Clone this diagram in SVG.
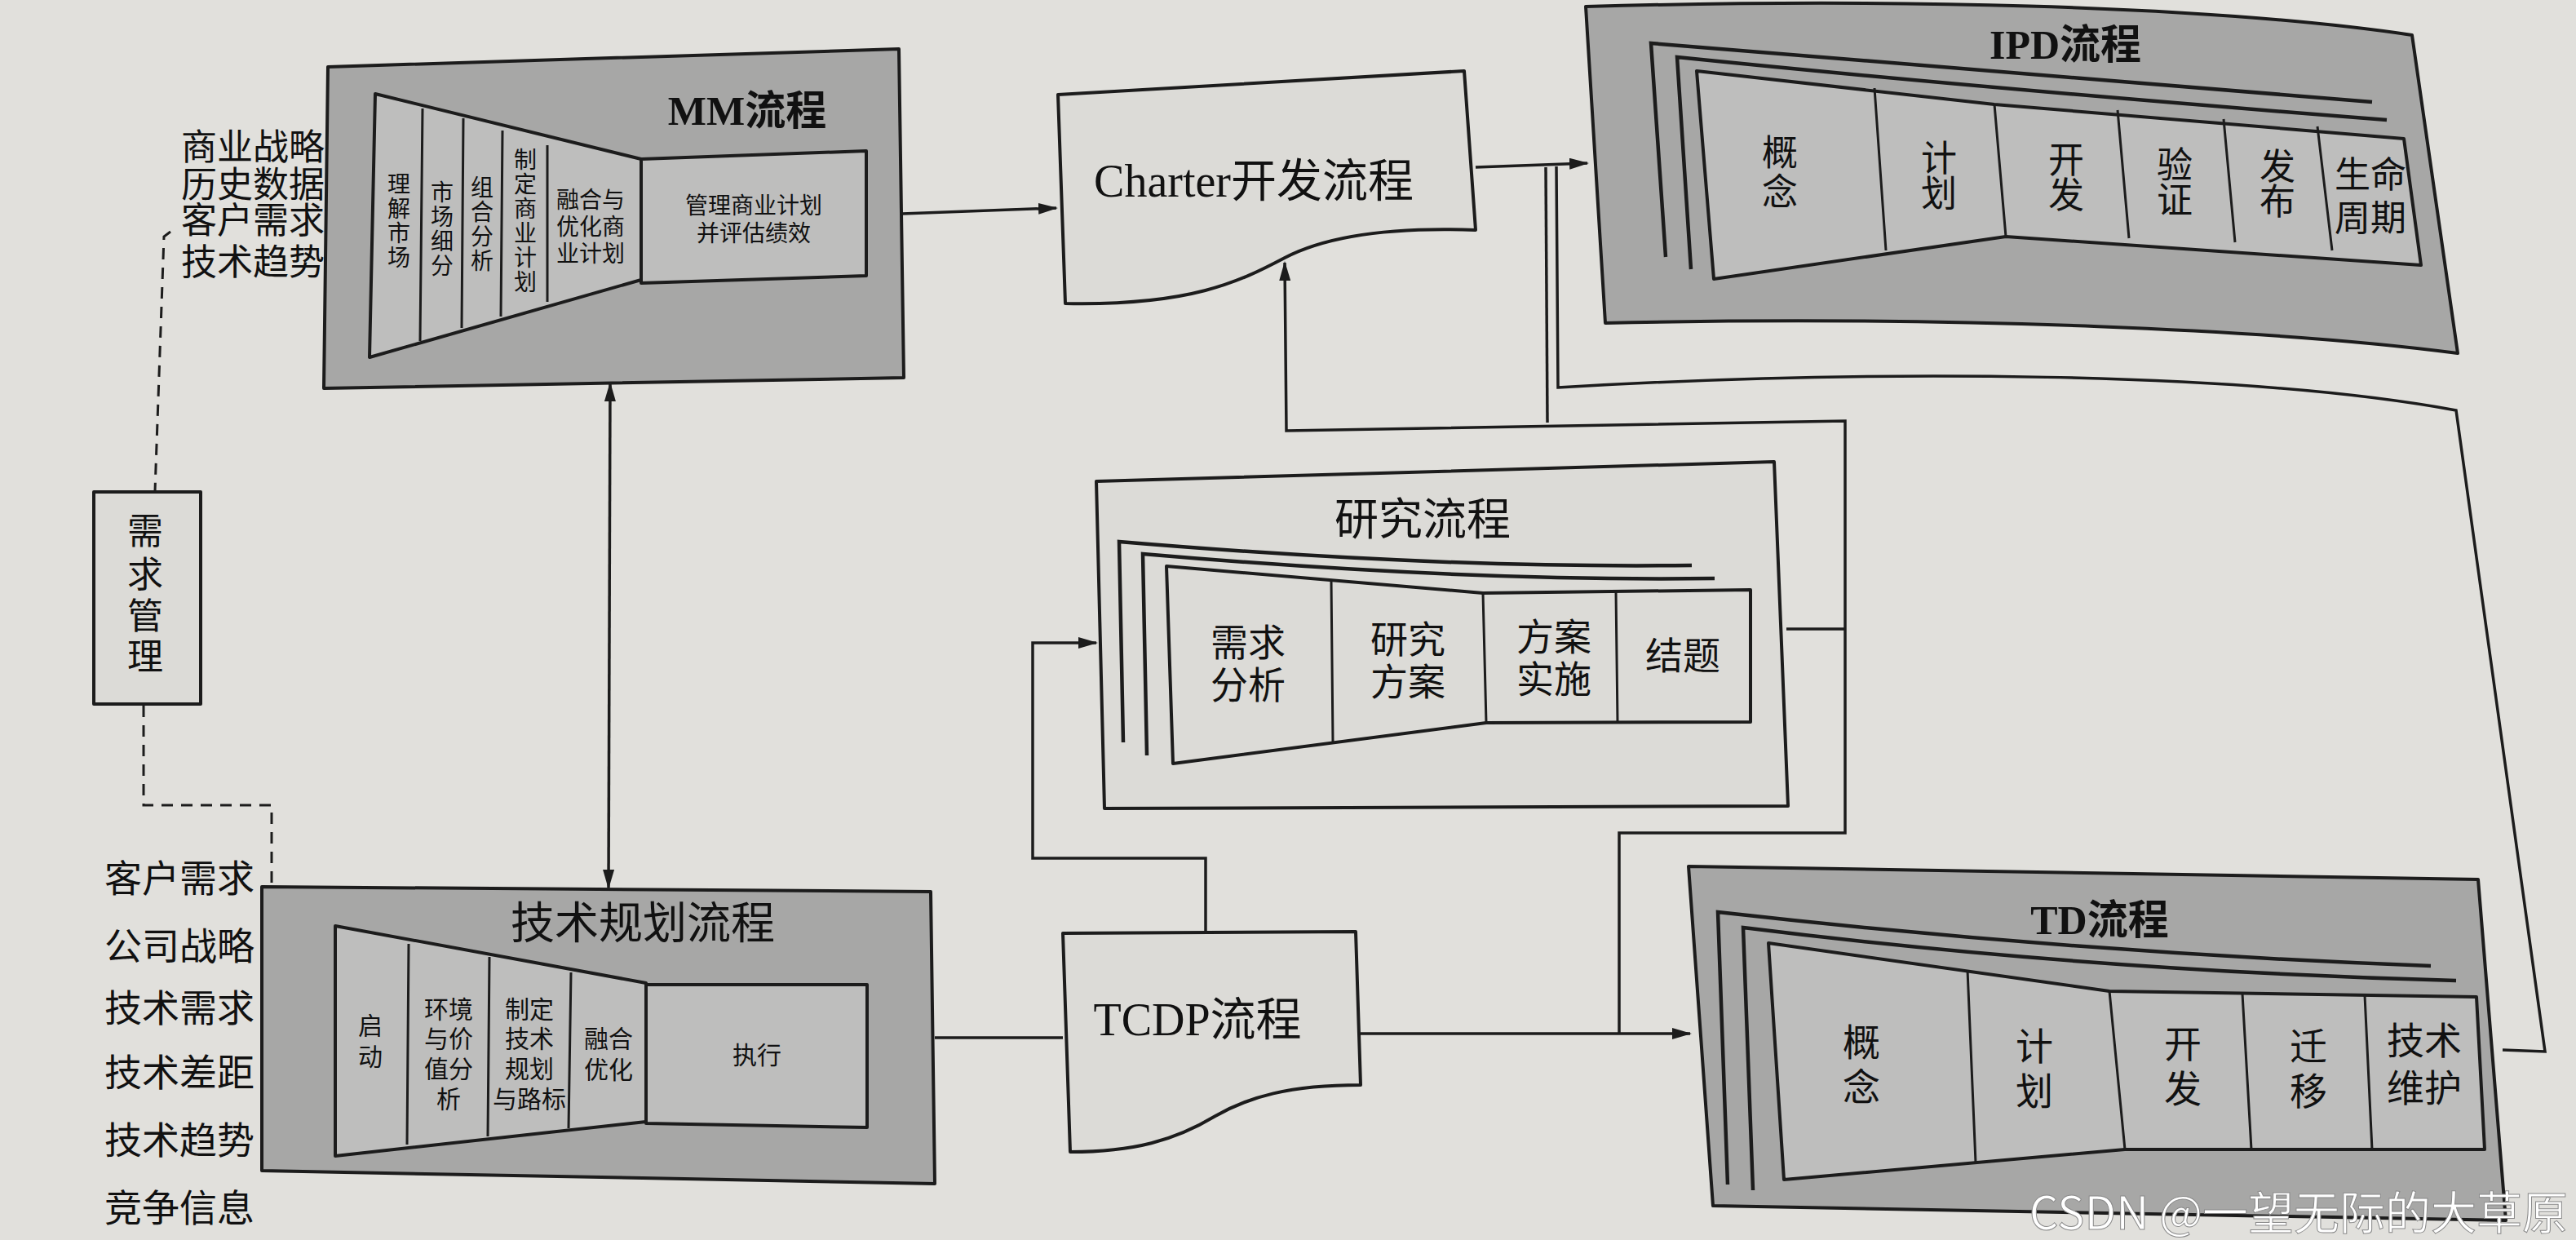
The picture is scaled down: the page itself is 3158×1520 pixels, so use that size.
<svg xmlns="http://www.w3.org/2000/svg" width="3158" height="1520" viewBox="0 0 3158 1520">
<defs>
<style>
.bg{fill:#e1e0dc}
.dark{fill:#a7a7a6;stroke:#1c1c1c;stroke-width:4;stroke-linejoin:round}
.mid{fill:#bebebd;stroke:#1c1c1c;stroke-width:4;stroke-linejoin:round}
.light{fill:#dcdbd7;stroke:#1c1c1c;stroke-width:4;stroke-linejoin:round}
.ln{fill:none;stroke:#1c1c1c;stroke-width:3.5}
.fr{fill:none;stroke:#1c1c1c;stroke-width:4.5}
.dv{fill:none;stroke:#1c1c1c;stroke-width:3}
.dash{fill:none;stroke:#1c1c1c;stroke-width:3;stroke-dasharray:14 10}
.t{font-family:"Liberation Serif","Noto Sans CJK SC",serif;fill:#111;text-anchor:middle;dominant-baseline:central}
.lab{font-family:"Liberation Serif","Noto Sans CJK SC",serif;fill:#111;text-anchor:end;dominant-baseline:central}
.s28{font-size:28px}
.s30{font-size:30px}
.s44{font-size:44px}
.s46{font-size:46px}
.ttl{font-size:50px;font-weight:bold}
</style>
<marker id="ah" markerWidth="24" markerHeight="14" refX="22" refY="7" orient="auto-start-reverse" markerUnits="userSpaceOnUse">
<path d="M0,0 L24,7 L0,14 z" fill="#1c1c1c"/>
</marker>
</defs>
<rect class="bg" x="0" y="0" width="3158" height="1520"/>

<g id="connectors">
<path class="ln" d="M1106,262 L1295,255" marker-end="url(#ah)"/>
<path class="ln" d="M748,470 L746,1088" marker-start="url(#ah)" marker-end="url(#ah)"/>
<path class="ln" d="M1809,205 L1946,200" marker-end="url(#ah)"/>
<path class="ln" d="M1908,204 L1910,475 C2300,452 2750,455 3011,503 L3120,1289 L3068,1287"/>
<path class="ln" d="M1895,205 L1897,518"/>
<path class="ln" d="M1985,1267 L1985,1021 L2262,1021 L2262,516 L1577,528 L1575,322" marker-end="url(#ah)"/>
<path class="ln" d="M2190,771 L2262,771"/>
<path class="ln" d="M1146,1272 L1303,1272"/>
<path class="ln" d="M1668,1267 L2072,1267" marker-end="url(#ah)"/>
<path class="ln" d="M1478,1144 L1478,1052 L1266,1052 L1266,788 L1344,788" marker-end="url(#ah)"/>
<path class="ln" d="M405,191 L455,191" marker-end="url(#ah)"/>
<path class="ln" d="M405,237 L455,237" marker-end="url(#ah)"/>
<path class="ln" d="M405,282 L455,282" marker-end="url(#ah)"/>
<path class="ln" d="M405,327 L455,327" marker-end="url(#ah)"/>
<path class="ln" d="M333,1185 L405,1185" marker-end="url(#ah)"/>
<path class="ln" d="M333,1228 L405,1228" marker-end="url(#ah)"/>
<path class="ln" d="M333,1271 L405,1271" marker-end="url(#ah)"/>
<path class="ln" d="M333,1316 L405,1316" marker-end="url(#ah)"/>
<path class="dash" d="M209,284 L201,290 L190,602"/>
<path class="dash" d="M176,865 L176,987 L333,987 L333,1088"/>
</g>

<g id="mm">
<path class="dark" d="M402,82 L1102,60 L1108,463 L397,476 Z"/>
<path class="mid" d="M460,115 L786,195 L786,343 L453,438 Z"/>
<path class="mid" d="M786,195 L1062,185 L1062,338 L786,347 Z"/>
<path class="dv" d="M518,133 L515,418 M568,145 L566,402 M616,160 L614,388 M671,178 L671,370"/>
<text class="t ttl" x="916" y="136">MM流程</text>
<text class="t s28"><tspan x="489" y="226">理</tspan><tspan x="489" y="256">解</tspan><tspan x="489" y="286">市</tspan><tspan x="489" y="316">场</tspan></text>
<text class="t s28"><tspan x="542" y="236">市</tspan><tspan x="542" y="266">场</tspan><tspan x="542" y="296">细</tspan><tspan x="542" y="326">分</tspan></text>
<text class="t s28"><tspan x="591" y="230">组</tspan><tspan x="591" y="260">合</tspan><tspan x="591" y="290">分</tspan><tspan x="591" y="320">析</tspan></text>
<text class="t s28"><tspan x="644" y="196">制</tspan><tspan x="644" y="226">定</tspan><tspan x="644" y="256">商</tspan><tspan x="644" y="286">业</tspan><tspan x="644" y="316">计</tspan><tspan x="644" y="346">划</tspan></text>
<text class="t s28"><tspan x="724" y="245">融合与</tspan><tspan x="724" y="278">优化商</tspan><tspan x="724" y="311">业计划</tspan></text>
<text class="t s28"><tspan x="924" y="252">管理商业计划</tspan><tspan x="924" y="286">并评估绩效</tspan></text>
</g>

<g id="mm-inputs">
<text class="lab s44" x="398" y="181">商业战略</text>
<text class="lab s44" x="398" y="227">历史数据</text>
<text class="lab s44" x="398" y="271">客户需求</text>
<text class="lab s44" x="398" y="322">技术趋势</text>
</g>

<g id="req-mgmt">
<rect class="light" x="115" y="603" width="131" height="260"/>
<text class="t s44"><tspan x="178" y="652">需</tspan><tspan x="178" y="705">求</tspan><tspan x="178" y="756">管</tspan><tspan x="178" y="806">理</tspan></text>
</g>

<g id="tech-plan">
<path class="dark" d="M321,1087 L1141,1093 L1146,1451 L321,1435 Z"/>
<path class="mid" d="M411,1135 L792,1205 L792,1375 L411,1417 Z"/>
<path class="mid" d="M792,1207 L1063,1207 L1063,1382 L792,1377 Z"/>
<path class="dv" d="M501,1157 L499,1403 M600,1173 L598,1393 M700,1192 L697,1383"/>
<text class="t" style="font-size:54px" x="788" y="1133">技术规划流程</text>
<text class="t s30"><tspan x="454" y="1257">启</tspan><tspan x="454" y="1295">动</tspan></text>
<text class="t s30"><tspan x="550" y="1237">环境</tspan><tspan x="550" y="1273">与价</tspan><tspan x="550" y="1310">值分</tspan><tspan x="550" y="1347">析</tspan></text>
<text class="t s30"><tspan x="649" y="1237">制定</tspan><tspan x="649" y="1273">技术</tspan><tspan x="649" y="1310">规划</tspan><tspan x="649" y="1347">与路标</tspan></text>
<text class="t s30"><tspan x="746" y="1273">融合</tspan><tspan x="746" y="1311">优化</tspan></text>
<text class="t s30" x="928" y="1293">执行</text>
</g>

<g id="tech-inputs">
<text class="lab s46" x="312" y="1077">客户需求</text>
<text class="lab s46" x="312" y="1160">公司战略</text>
<text class="lab s46" x="312" y="1236">技术需求</text>
<text class="lab s46" x="312" y="1315">技术差距</text>
<text class="lab s46" x="312" y="1398">技术趋势</text>
<text class="lab s46" x="312" y="1481">竞争信息</text>
</g>

<g id="charter">
<path class="light" d="M1297,116 L1795,87 L1809,282 C1700,278 1625,290 1575,316 C1520,345 1460,375 1306,372 Z"/>
<text class="t" style="font-size:56px" x="1537" y="222">Charter开发流程</text>
</g>

<g id="ipd">
<path class="dark" d="M1944,8 C2300,-2 2700,5 2957,43 L3013,433 C2800,405 2400,386 1968,396 Z"/>
<path class="fr" d="M2042,315 L2024,53 Q2389,83 2908,125"/>
<path class="fr" d="M2073,330 L2056,70 Q2417,107 2926,147"/>
<path class="mid" d="M2080,87 L2445,128 L2947,170 L2968,325 L2459,290 L2101,342 Z"/>
<path class="dv" d="M2298,108 L2312,307 M2445,128 L2459,290 M2596,135 L2610,292 M2726,146 L2740,297 M2841,155 L2859,307"/>
<text class="t ttl" x="2532" y="55">IPD流程</text>
<text class="t s44"><tspan x="2182" y="188">概</tspan><tspan x="2182" y="236">念</tspan></text>
<text class="t s44"><tspan x="2377" y="195">计</tspan><tspan x="2377" y="238">划</tspan></text>
<text class="t s44"><tspan x="2533" y="197">开</tspan><tspan x="2533" y="240">发</tspan></text>
<text class="t s44"><tspan x="2666" y="203">验</tspan><tspan x="2666" y="246">证</tspan></text>
<text class="t s44"><tspan x="2792" y="205">发</tspan><tspan x="2792" y="248">布</tspan></text>
<text class="t s44"><tspan x="2906" y="215">生命</tspan><tspan x="2906" y="268">周期</tspan></text>
</g>

<g id="research">
<path class="light" d="M1344,590 L2175,566 L2192,988 L1354,991 Z"/>
<path class="fr" d="M1377,910 L1372,664 Q1765,697 2074,693"/>
<path class="fr" d="M1406,926 L1401,679 Q1795,713 2102,709"/>
<path class="light" d="M1430,694 L1818,727 L2146,723 L2146,885 L1822,886 L1438,936 Z"/>
<path class="dv" d="M1632,711 L1634,909 M1818,727 L1822,886 M1981,725 L1983,885"/>
<text class="t" style="font-size:54px" x="1744" y="638">研究流程</text>
<text class="t s46"><tspan x="1530" y="788">需求</tspan><tspan x="1530" y="840">分析</tspan></text>
<text class="t s46"><tspan x="1726" y="784">研究</tspan><tspan x="1726" y="836">方案</tspan></text>
<text class="t s46"><tspan x="1905" y="781">方案</tspan><tspan x="1905" y="833">实施</tspan></text>
<text class="t s46" x="2063" y="804">结题</text>
</g>

<g id="tcdp">
<path class="light" d="M1303,1144 L1662,1142 L1668,1330 C1580,1330 1530,1345 1490,1368 C1440,1398 1390,1412 1312,1412 Z"/>
<text class="t" style="font-size:56px" x="1468" y="1250">TCDP流程</text>
</g>

<g id="td">
<path class="dark" d="M2070,1062 L3038,1078 L3072,1496 L2100,1478 Z"/>
<path class="fr" d="M2118,1452 L2106,1118 Q2549,1168 2980,1184"/>
<path class="fr" d="M2149,1459 L2137,1137 Q2561,1190 3011,1202"/>
<path class="mid" d="M2168,1156 L2586,1215 L3036,1222 L3046,1409 L2605,1409 L2187,1446 Z"/>
<path class="dv" d="M2412,1189 L2422,1425 M2586,1215 L2605,1409 M2749,1218 L2760,1409 M2899,1220 L2908,1409"/>
<text class="t ttl" x="2574" y="1128">TD流程</text>
<text class="t s46"><tspan x="2282" y="1278">概</tspan><tspan x="2282" y="1333">念</tspan></text>
<text class="t s46"><tspan x="2494" y="1283">计</tspan><tspan x="2494" y="1338">划</tspan></text>
<text class="t s46"><tspan x="2676" y="1280">开</tspan><tspan x="2676" y="1335">发</tspan></text>
<text class="t s46"><tspan x="2830" y="1283">迁</tspan><tspan x="2830" y="1338">移</tspan></text>
<text class="t s46"><tspan x="2972" y="1276">技术</tspan><tspan x="2972" y="1334">维护</tspan></text>
</g>

<text x="3148" y="1482" style="font-family:'Noto Sans CJK SC','Noto Sans',sans-serif;font-size:56px;fill:#ffffff;stroke:#8a8a8a;stroke-width:1;text-anchor:end;dominant-baseline:central">CSDN @一望无际的大草原</text>
</svg>
